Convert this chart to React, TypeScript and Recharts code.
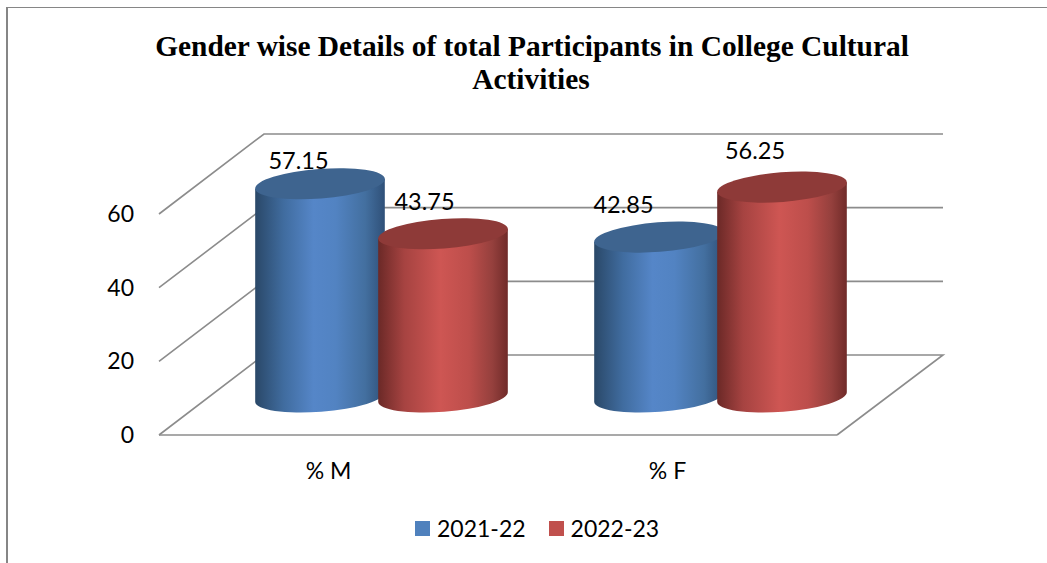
import { BarChart, Bar, XAxis, YAxis, CartesianGrid, Legend, LabelList } from 'recharts';

const categories = ['% M', '% F'];
const values2021 = [57.15, 42.85];
const values2022 = [43.75, 56.25];
const yTicks = [0, 20, 40, 60];

const data = categories.map((name, i) => ({
  name,
  '2021-22': values2021[i],
  '2022-23': values2022[i],
}));

const FONT = 'Lato, sans-serif';
const GRID = '#8c8c8c';
const PLOT_BOTTOM = 435;

// depth of the fake 3d box, and where the cylinders stand on the floor
const DEPTH_X = 105;
const DEPTH_Y = 80;
const BAR_SHIFT_X = 52.5;
const BAR_SHIFT_Y = 38;
const TILT = -4.4;
const RY = 14.8;

// hand placed labels, the original ones do not sit on the cylinders
const labelNudge2021 = [[31, -64.5], [17, -73]];
const labelNudge2022 = [[34, -73], [25.5, -77.5]];

const renderGridLine = (props: any) => {
  const { x1, x2, y1, key } = props;
  const backLeft = x1 + DEPTH_X;
  const backRight = x2 + DEPTH_X + 1;
  const backY = y1 - DEPTH_Y;
  let pts = `${x1},${y1} ${backLeft},${backY} ${backRight},${backY}`;
  // the floor closes on the right side
  if (y1 >= PLOT_BOTTOM) pts += ` ${x2},${y1}`;
  return <polyline key={key} points={pts} fill="none" stroke={GRID} strokeWidth={1.6} />;
};

const Cylinder = (props: any) => {
  const { x, y, width, height, gradient, cap } = props;
  const cx = x + width / 2 + BAR_SHIFT_X;
  const h = height * 1.013;
  const baseY = y + height - BAR_SHIFT_Y;
  const topY = baseY - h;
  const rx = 65;
  const rad = (TILT * Math.PI) / 180;
  const ex = rx * Math.cos(rad);
  const ey = rx * Math.sin(rad);
  const body = `M ${cx - ex} ${topY - ey} L ${cx - ex} ${baseY - ey} A ${rx} ${RY} ${TILT} 0 0 ${cx + ex} ${baseY + ey} L ${cx + ex} ${topY + ey} Z`;
  return (
    <g>
      <path d={body} fill={`url(#${gradient})`} />
      <ellipse cx={cx} cy={topY} rx={rx} ry={RY} fill={cap} transform={`rotate(${TILT} ${cx} ${topY})`} />
    </g>
  );
};

const renderLabel = (nudge: number[][]) => (props: any) => {
  const { x, y, width, value, index } = props;
  return (
    <text
      x={x + width / 2 + nudge[index][0]}
      y={y + nudge[index][1]}
      textAnchor="middle"
      dominantBaseline="central"
      fontFamily={FONT}
      fontSize={23.5}
      fill="#000"
    >
      {value}
    </text>
  );
};

const renderLegend = (props: any) => (
  <div style={{ display: 'flex', alignItems: 'center', fontFamily: FONT, fontSize: 23, color: '#000' }}>
    {props.payload.map((item: any) => (
      <div key={item.value} style={{ display: 'flex', alignItems: 'center', marginRight: 23 }}>
        <span style={{ width: 15, height: 15, background: item.color, marginRight: 7 }} />
        <span>{item.value}</span>
      </div>
    ))}
  </div>
);

const titleLine = {
  position: 'absolute',
  left: 0,
  width: 1064,
  textAlign: 'center',
  whiteSpace: 'nowrap',
  fontFamily: '"Liberation Serif", serif',
  fontWeight: 'bold',
  fontSize: 29.4,
  lineHeight: '33px',
  color: '#000',
} as const;

export default function App() {
  return (
    <div style={{ position: 'absolute', left: 0, top: 0, width: 1047, height: 563, overflow: 'hidden', background: '#fff' }}>
      <div style={{ position: 'absolute', left: 6, top: 7, width: 1041, height: 556, borderLeft: '2px solid #868686', borderTop: '1.5px solid #868686', boxSizing: 'border-box' }} />
      <div style={{ ...titleLine, top: 30 }}>Gender wise Details of total Participants in College Cultural</div>
      <div style={{ ...titleLine, top: 63, width: 1062 }}>Activities</div>
      <div style={{ position: 'absolute', left: 0, top: 0 }}>
        <BarChart
          width={1047}
          height={563}
          data={data}
          margin={{ top: 214, right: 210, bottom: 0, left: 0 }}
          barSize={123}
          barGap={0}
        >
          <defs>
            <linearGradient id="blueBody" x1="0" y1="0" x2="1" y2="0">
              <stop offset="0%" stopColor="#2a4868" />
              <stop offset="22%" stopColor="#406c9f" />
              <stop offset="45%" stopColor="#5586c8" />
              <stop offset="62%" stopColor="#5283c2" />
              <stop offset="85%" stopColor="#436f9f" />
              <stop offset="100%" stopColor="#2f5078" />
            </linearGradient>
            <linearGradient id="redBody" x1="0" y1="0" x2="1" y2="0">
              <stop offset="0%" stopColor="#6b2927" />
              <stop offset="20%" stopColor="#a64341" />
              <stop offset="48%" stopColor="#ce5653" />
              <stop offset="70%" stopColor="#bd4e4b" />
              <stop offset="88%" stopColor="#95403d" />
              <stop offset="100%" stopColor="#702b29" />
            </linearGradient>
          </defs>
          <CartesianGrid vertical={false} horizontal={renderGridLine} />
          <XAxis
            dataKey="name"
            height={128}
            tickLine={false}
            tickSize={0}
            tickMargin={28}
            axisLine={{ stroke: GRID, strokeWidth: 1.6 }}
            tick={{ fontFamily: FONT, fontSize: 23, fill: '#000' }}
          />
          <YAxis
            width={159}
            domain={[0, 60]}
            ticks={yTicks}
            axisLine={false}
            tickLine={false}
            tickSize={0}
            tickMargin={25}
            tick={{ fontFamily: FONT, fontSize: 23, fill: '#000' }}
          />
          <Legend
            layout="horizontal"
            verticalAlign="middle"
            align="center"
            content={renderLegend}
            wrapperStyle={{ left: 415, top: 514, width: 300 }}
          />
          <Bar
            dataKey="2021-22"
            fill="#4f81bd"
            isAnimationActive={false}
            shape={(p: any) => <Cylinder {...p} gradient="blueBody" cap="#3e648f" />}
          >
            <LabelList dataKey="2021-22" content={renderLabel(labelNudge2021)} />
          </Bar>
          <Bar
            dataKey="2022-23"
            fill="#c0504d"
            isAnimationActive={false}
            shape={(p: any) => <Cylinder {...p} gradient="redBody" cap="#8e3a38" />}
          >
            <LabelList dataKey="2022-23" content={renderLabel(labelNudge2022)} />
          </Bar>
        </BarChart>
      </div>
    </div>
  );
}
